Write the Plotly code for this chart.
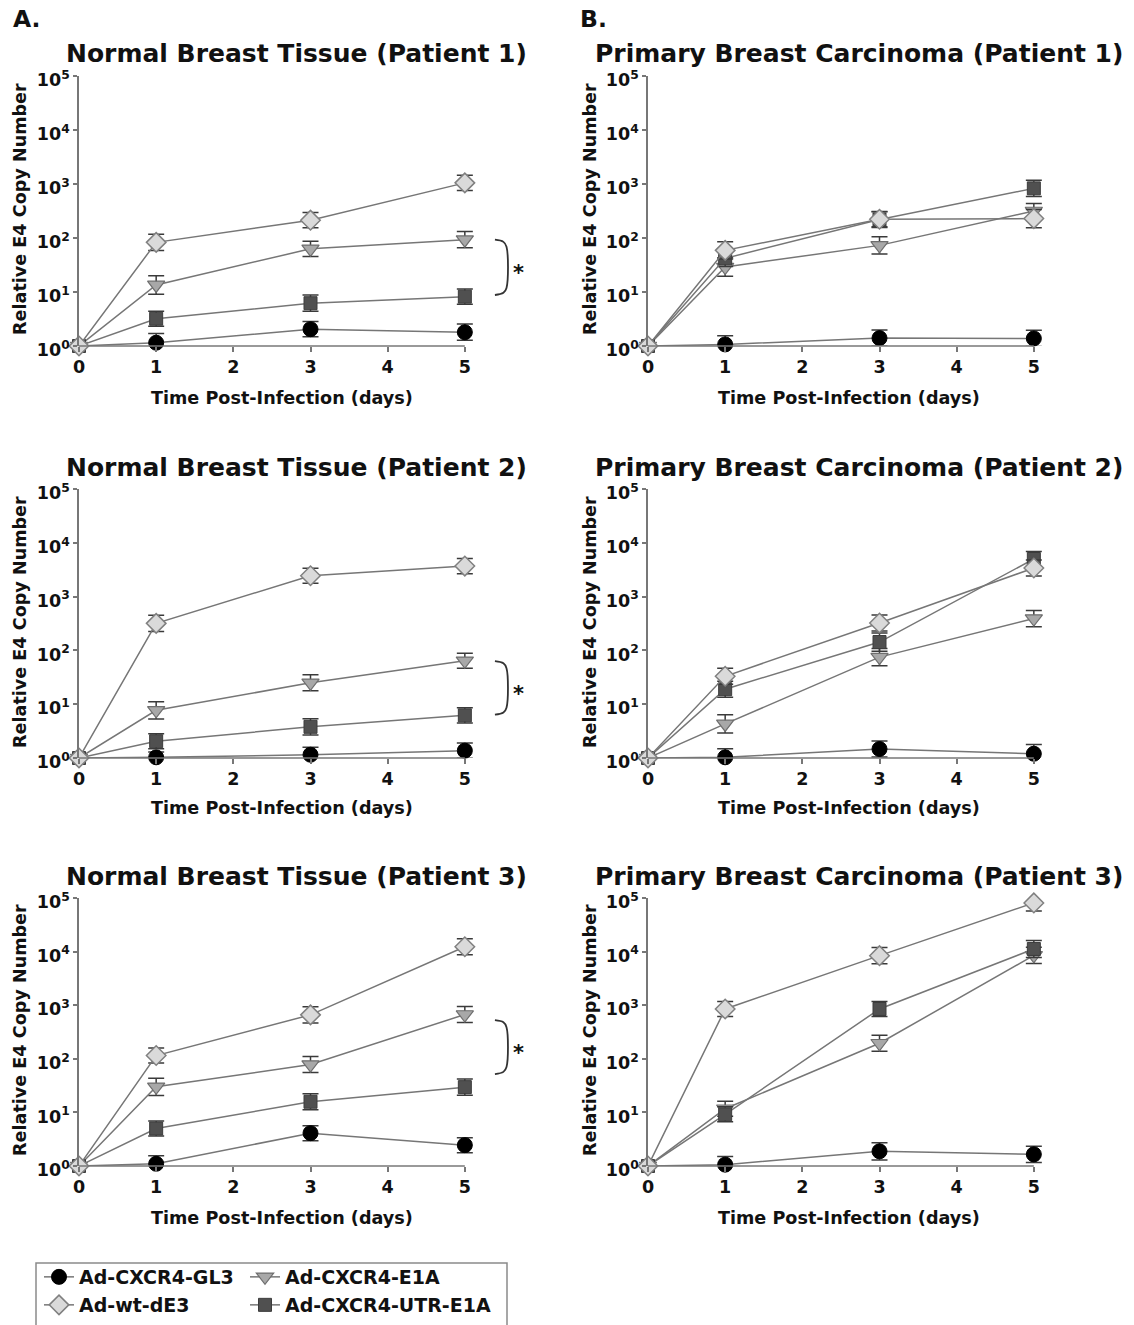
import plotly.graph_objects as go
import numpy as np

W, H = 1134, 1325

# ---------------- data ----------------
days = [0, 1, 3, 5]
x_ticks = [0, 1, 2, 3, 4, 5]
y_tickvals = [1, 10, 100, 1000, 10000, 100000]
y_ticktext = ["10<sup>0</sup>", "10<sup>1</sup>", "10<sup>2</sup>",
              "10<sup>3</sup>", "10<sup>4</sup>", "10<sup>5</sup>"]

series_names = ["Ad-CXCR4-GL3", "Ad-CXCR4-E1A", "Ad-CXCR4-UTR-E1A", "Ad-wt-dE3"]

panel_titles = ["Normal Breast Tissue (Patient 1)", "Primary Breast Carcinoma (Patient 1)",
                "Normal Breast Tissue (Patient 2)", "Primary Breast Carcinoma (Patient 2)",
                "Normal Breast Tissue (Patient 3)", "Primary Breast Carcinoma (Patient 3)"]

# Normal breast tissue, patient 1
n1_gl3 = [1, 1.15, 2.05, 1.8]
n1_e1a = [1, 13.5, 63, 93]
n1_utr = [1, 3.2, 6.2, 8.2]
n1_wt = [1, 83, 214, 1050]
# Primary carcinoma, patient 1
c1_gl3 = [1, 1.07, 1.4, 1.38]
c1_e1a = [1, 29, 73, 316]
c1_utr = [1, 42, 220, 830]
c1_wt = [1, 59, 223, 229]
# Normal breast tissue, patient 2
n2_gl3 = [1, 1.03, 1.15, 1.37]
n2_e1a = [1, 7.7, 25, 64]
n2_utr = [1, 2.05, 3.8, 6.2]
n2_wt = [1, 318, 2440, 3690]
# Primary carcinoma, patient 2
c2_gl3 = [1, 1.03, 1.47, 1.2]
c2_e1a = [1, 4.3, 75, 390]
c2_utr = [1, 19, 143, 5000]
c2_wt = [1, 33, 323, 3400]
# Normal breast tissue, patient 3
n3_gl3 = [1, 1.1, 4.1, 2.45]
n3_e1a = [1, 30, 78, 670]
n3_utr = [1, 5.0, 15.8, 29.6]
n3_wt = [1, 115, 660, 12300]
# Primary carcinoma, patient 3
c3_gl3 = [1, 1.06, 1.88, 1.65]
c3_e1a = [1, 11.7, 195, 8500]
c3_utr = [1, 9.2, 850, 11200]
c3_wt = [1, 850, 8400, 81000]

# error-bar half widths (in decades)
n1_err_gl3 = [0, 0.17, 0.14, 0.15]
n1_err_e1a = [0, 0.17, 0.14, 0.15]
n1_err_utr = [0, 0.14, 0.15, 0.14]
n1_err_wt = [0, 0.15, 0.14, 0.14]
c1_err_gl3 = [0, 0.16, 0.15, 0.15]
c1_err_e1a = [0, 0.17, 0.16, 0.14]
c1_err_utr = [0, 0.15, 0.15, 0.15]
c1_err_wt = [0, 0.16, 0.14, 0.17]
n2_err_gl3 = [0, 0.10, 0.14, 0.14]
n2_err_e1a = [0, 0.16, 0.15, 0.14]
n2_err_utr = [0, 0.14, 0.15, 0.14]
n2_err_wt = [0, 0.15, 0.14, 0.14]
c2_err_gl3 = [0, 0.16, 0.15, 0.17]
c2_err_e1a = [0, 0.17, 0.16, 0.15]
c2_err_utr = [0, 0.15, 0.17, 0.14]
c2_err_wt = [0, 0.15, 0.15, 0.15]
n3_err_gl3 = [0, 0.15, 0.14, 0.14]
n3_err_e1a = [0, 0.16, 0.15, 0.15]
n3_err_utr = [0, 0.14, 0.15, 0.15]
n3_err_wt = [0, 0.14, 0.15, 0.15]
c3_err_gl3 = [0, 0.15, 0.16, 0.15]
c3_err_e1a = [0, 0.14, 0.15, 0.15]
c3_err_utr = [0, 0.14, 0.14, 0.16]
c3_err_wt = [0, 0.14, 0.15, 0.15]

# significance brackets (normal tissue panels)
bracket_top = [93, 63, 525]
bracket_bottom = [8.8, 6.4, 52]

panels = [
    [n1_gl3, n1_e1a, n1_utr, n1_wt], [c1_gl3, c1_e1a, c1_utr, c1_wt],
    [n2_gl3, n2_e1a, n2_utr, n2_wt], [c2_gl3, c2_e1a, c2_utr, c2_wt],
    [n3_gl3, n3_e1a, n3_utr, n3_wt], [c3_gl3, c3_e1a, c3_utr, c3_wt],
]
panel_errs = [
    [n1_err_gl3, n1_err_e1a, n1_err_utr, n1_err_wt], [c1_err_gl3, c1_err_e1a, c1_err_utr, c1_err_wt],
    [n2_err_gl3, n2_err_e1a, n2_err_utr, n2_err_wt], [c2_err_gl3, c2_err_e1a, c2_err_utr, c2_err_wt],
    [n3_err_gl3, n3_err_e1a, n3_err_utr, n3_err_wt], [c3_err_gl3, c3_err_e1a, c3_err_utr, c3_err_wt],
]

# ---------------- styles ----------------
FONT = "DejaVu Sans"
TXT = "#111111"
LINE_COL = "#767676"
styles = [
    dict(symbol="circle", size=15, color="#000000", line=dict(color="#000000", width=1)),
    dict(symbol="triangle-down", size=15, color="#a8a8a8", line=dict(color="#6e6e6e", width=1.2)),
    dict(symbol="square", size=13, color="#505050", line=dict(color="#3c3c3c", width=1)),
    dict(symbol="diamond", size=15, color="#dadada", line=dict(color="#808080", width=1.5)),
]
# one legend per entry so each can be placed exactly (2 x 2 grid)
legend_of = ["legend", "legend2", "legend4", "legend3"]
legend_pos = {"legend": (39, 1277), "legend2": (245, 1277),
              "legend3": (39, 1305), "legend4": (245, 1305)}

# pixel layout -> paper domains (x range 0..6, day 5 at 5/6 of the width)
x_pix = [(79, 542), (648, 1111)]
x_dom = [[a / W, b / W] for a, b in x_pix]
y_pix = [(76, 346), (489, 758), (898, 1166)]
y_dom = [[1 - b / H, 1 - t / H] for t, b in y_pix]

fig = go.Figure()
layout = {}
annotations = []
shapes = []

for k in range(6):
    r, c = k // 2, k % 2
    n = k + 1
    xa = "x" if n == 1 else f"x{n}"
    ya = "y" if n == 1 else f"y{n}"
    for s in range(4):
        vals = np.array(panels[k][s], dtype=float)
        e = np.array(panel_errs[k][s], dtype=float)
        up = vals * (10 ** e - 1)
        dn = vals * (1 - 10 ** (-e))
        fig.add_trace(go.Scatter(
            x=days, y=vals, mode="lines+markers", name=series_names[s],
            xaxis=xa, yaxis=ya, cliponaxis=False,
            line=dict(color=LINE_COL, width=1.5),
            marker=styles[s],
            error_y=dict(type="data", array=up, arrayminus=dn, visible=True,
                         color="#3a3a3a", thickness=1.5, width=8),
            showlegend=(k == 0), legend=legend_of[s],
        ))
    layout["xaxis" if n == 1 else f"xaxis{n}"] = dict(
        domain=x_dom[c], anchor=ya, range=[0, 6], tickvals=x_ticks,
        ticktext=[str(v) for v in x_ticks], showline=False, showgrid=False,
        zeroline=False, ticks="outside", ticklen=5, tickwidth=1.5, tickcolor="#777777",
        tickfont=dict(family=FONT, size=17.5, color=TXT, weight="bold"),
        automargin=False,
    )
    layout["yaxis" if n == 1 else f"yaxis{n}"] = dict(
        domain=y_dom[r], anchor=xa, type="log", range=[0, 5],
        tickvals=y_tickvals, ticktext=y_ticktext, showline=True, linecolor="#777777",
        linewidth=1.5, showgrid=False, zeroline=False, ticks="outside", ticklen=4,
        tickwidth=1.5, tickcolor="#777777", ticklabelshift=4,
        tickfont=dict(family=FONT, size=17.5, color=TXT, weight="bold"),
        automargin=False,
    )
    # x-axis baseline from day 0 to day 5
    shapes.append(dict(type="line", xref=xa, yref=f"{ya} domain", x0=0, x1=5, y0=0, y1=0,
                       line=dict(color="#777777", width=1.5)))

    # titles
    tx = [296, 859][c]
    ty = [53, 467, 876][r]
    annotations.append(dict(text=panel_titles[k], x=tx / W, y=1 - ty / H, xref="paper", yref="paper",
                            xanchor="center", yanchor="middle", showarrow=False,
                            font=dict(family=FONT, size=25, color=TXT, weight="bold")))
    yx = [20, 590][c]
    yy = [209, 622, 1030][r]
    annotations.append(dict(text="Relative E4 Copy Number", x=yx / W, y=1 - yy / H, xref="paper",
                            yref="paper", textangle=-90, xanchor="center", yanchor="middle",
                            showarrow=False,
                            font=dict(family=FONT, size=17.6, color=TXT, weight="bold")))
    xx = [282, 849][c]
    xy = [398, 808, 1218][r]
    annotations.append(dict(text="Time Post-Infection (days)", x=xx / W, y=1 - xy / H, xref="paper",
                            yref="paper", xanchor="center", yanchor="middle", showarrow=False,
                            font=dict(family=FONT, size=17.6, color=TXT, weight="bold")))

    # significance bracket for normal tissue panels
    if c == 0:
        top, bot = bracket_top[r], bracket_bottom[r]
        lt, lb = np.log10(top), np.log10(bot)
        bx = [5.39, 5.50, 5.54, 5.54, 5.50, 5.39]
        by = [top, 10 ** (lt - 0.04), 10 ** (lt - 0.13), 10 ** (lb + 0.13), 10 ** (lb + 0.04), bot]
        fig.add_trace(go.Scatter(x=bx, y=by, mode="lines", xaxis=xa, yaxis=ya,
                                 line=dict(color="#333333", width=1.8, shape="spline"),
                                 showlegend=False, hoverinfo="skip"))
        annotations.append(dict(text="*", x=5.69, y=(lt + lb) / 2, xref=xa, yref=ya,
                                showarrow=False, yshift=-6,
                                font=dict(family=FONT, size=21, color=TXT, weight="bold")))

# panel letters
for letter, px in [("A.", 11), ("B.", 578)]:
    annotations.append(dict(text=letter, x=px / W, y=1 - 19 / H, xref="paper", yref="paper",
                            xanchor="left", yanchor="middle", showarrow=False,
                            font=dict(family=FONT, size=23.5, color=TXT, weight="bold")))

# legend box
shapes.append(dict(type="rect", xref="paper", yref="paper", x0=36 / W, x1=507 / W,
                   y0=-0.02, y1=1 - 1263 / H, line=dict(color="#8a8a8a", width=1.5)))

leg_font = dict(family=FONT, size=19, color=TXT, weight="bold")
legends = {}
for name, (lx, ly) in legend_pos.items():
    legends[name] = dict(x=lx / W, y=1 - ly / H, xanchor="left", yanchor="middle",
                         font=leg_font, bgcolor="rgba(0,0,0,0)", tracegroupgap=0,
                         itemwidth=30)

fig.update_layout(
    width=W, height=H, margin=dict(l=0, r=0, t=0, b=0, autoexpand=False),
    paper_bgcolor="white", plot_bgcolor="white",
    annotations=annotations, shapes=shapes,
    **legends,
    **layout,
)

fig.write_html("out.html", config={"displayModeBar": False},
               post_script="document.body.style.margin='0px';")
